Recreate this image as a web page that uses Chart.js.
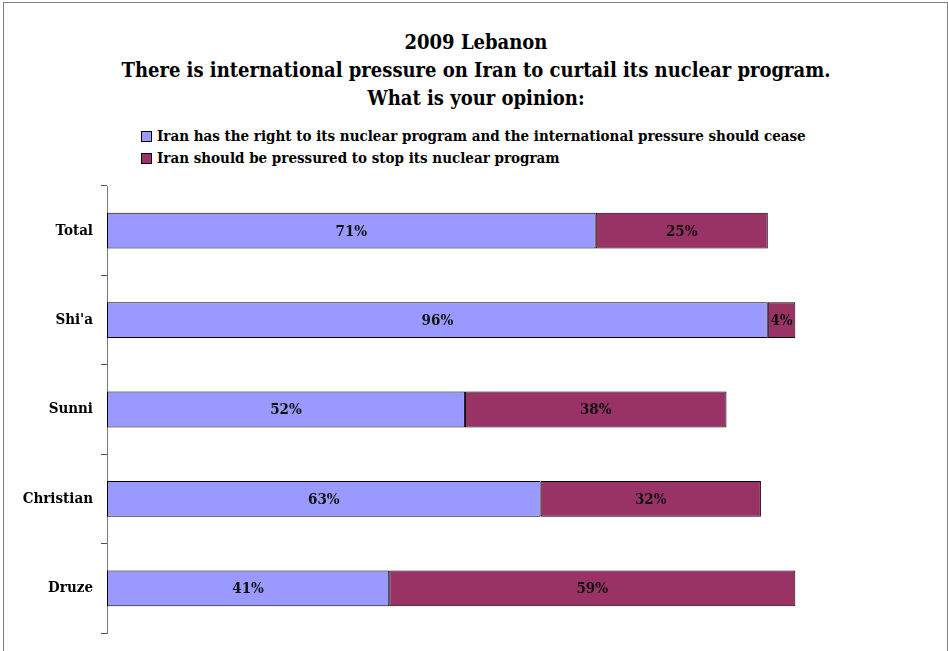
<!DOCTYPE html>
<html>
<head>
<meta charset="utf-8">
<script src="https://cdn.jsdelivr.net/npm/chart.js@4.4.1/dist/chart.umd.min.js"></script>
<style>
  html, body { margin: 0; padding: 0; background: #fff; }
  body { width: 948px; height: 651px; position: relative; overflow: hidden; font-family: "DejaVu Serif Condensed", "DejaVu Serif", serif; font-weight: bold; color: #000; }
  #frame { position: absolute; left: 3px; top: 2px; width: 943px; height: 700px; border: 1px solid #808080; }
  #title { position: absolute; left: 0; top: 28px; width: 952px; text-align: center; font-size: 20px; line-height: 28px; }
  #legend { position: absolute; left: 141px; top: 125px; font-size: 15px; line-height: 22px; }
  .row { display: flex; align-items: center; white-space: nowrap; }
  .swatch { width: 9px; height: 9px; border: 1px solid #000; margin-right: 5px; }
  canvas { position: absolute; left: 0; top: 0; }
</style>
</head>
<body>
<div id="frame"></div>
<div id="title"></div>
<div id="legend"></div>
<canvas id="chart" width="948" height="651"></canvas>
<script>
// Survey groups and answer shares (%)
const categories = ['Total', "Shi'a", 'Sunni', 'Christian', 'Druze'];
const rightToProgram = [71, 96, 52, 63, 41];
const shouldBePressured = [25, 4, 38, 32, 59];
const seriesNames = [
  'Iran has the right to its nuclear program and the international pressure should cease',
  'Iran should be pressured to stop its nuclear program'
];
const seriesColors = ['#9999FF', '#993366'];
const titleLines = [
  '2009 Lebanon',
  'There is international pressure on Iran to curtail its nuclear program.',
  'What is your opinion:'
];

const FONT = '"DejaVu Serif Condensed", "DejaVu Serif", serif';

// Heading
document.getElementById('title').innerHTML = titleLines.map(t => '<div>' + t + '</div>').join('');

// Legend rows
document.getElementById('legend').innerHTML = seriesNames.map((name, i) =>
  '<div class="row"><span class="swatch" style="background:' + seriesColors[i] + '"></span>' + name + '</div>'
).join('');

// Percent labels centred inside each bar segment
const segmentLabels = {
  id: 'segmentLabels',
  afterDatasetsDraw(chart) {
    const ctx = chart.ctx;
    ctx.save();
    ctx.font = 'bold 15px ' + FONT;
    ctx.fillStyle = '#111';
    ctx.textAlign = 'center';
    ctx.textBaseline = 'middle';
    chart.data.datasets.forEach((ds, di) => {
      chart.getDatasetMeta(di).data.forEach((bar, i) => {
        const v = ds.data[i];
        const cx = (bar.x + bar.base) / 2;
        ctx.fillText(v + '%', cx, bar.y + 1);
      });
    });
    ctx.restore();
  }
};

new Chart(document.getElementById('chart'), {
  type: 'bar',
  data: {
    labels: categories,
    datasets: [
      { label: seriesNames[0], data: rightToProgram, backgroundColor: seriesColors[0] },
      { label: seriesNames[1], data: shouldBePressured, backgroundColor: seriesColors[1] }
    ].map(d => Object.assign(d, {
      borderColor: '#000',
      borderWidth: 1,
      borderSkipped: false,
      barPercentage: 0.4,
      categoryPercentage: 1
    }))
  },
  options: {
    indexAxis: 'y',
    responsive: false,
    animation: false,
    layout: { padding: { top: 186, bottom: 18, right: 15, left: 0 } },
    plugins: {
      legend: { display: false },
      title: { display: false },
      tooltip: { enabled: false }
    },
    scales: {
      x: { stacked: true, min: 0, max: 120, display: false },
      y: {
        stacked: true,
        afterFit(scale) { scale.width = 107; },
        grid: { display: true, drawOnChartArea: false, offset: true, tickLength: 6, color: '#555', lineWidth: 1 },
        border: { display: true, color: '#777', width: 1 },
        ticks: { color: '#000', padding: 8, font: { family: FONT, size: 15, weight: 'bold' } }
      }
    }
  },
  plugins: [segmentLabels]
});
</script>
</body>
</html>
